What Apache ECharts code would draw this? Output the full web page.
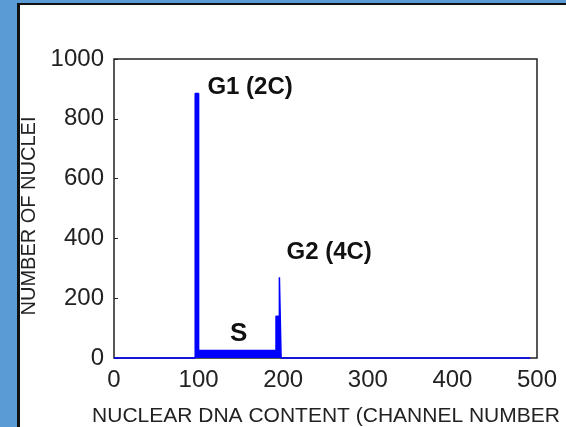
<!DOCTYPE html>
<html>
<head>
<meta charset="utf-8">
<script src="https://cdn.jsdelivr.net/npm/echarts@6/dist/echarts.min.js"></script>
<style>
  html, body { margin: 0; padding: 0; width: 566px; height: 427px; overflow: hidden; background: #5b9bd5; }
  #frame { position: absolute; left: 17px; top: 3px; right: 0; bottom: 0; background: #fff;
           border-left: 3px solid #111; border-top: 2px solid #111; box-sizing: border-box; }
  #chart { position: absolute; left: 0; top: 0; width: 566px; height: 427px; }
</style>
</head>
<body>
<div id="frame"></div>
<div id="chart"></div>
<script>
// DNA content histogram: channel number vs. count of nuclei
const channel = [0, 96, 96, 100, 100, 191.5, 191.5, 195.5, 195.5, 197.5, 197.5, 492];
const nuclei  = [0, 0, 885, 885, 25, 25, 140, 140, 270, 270, 0, 0];

const xTicks = [0, 100, 200, 300, 400, 500];
const yTicks = [0, 200, 400, 600, 800, 1000];

// phase annotations: [label, channel, count, alignment]
const phaseLabels = [
  ['G1 (2C)', 111, 905, 'left'],
  ['G2 (4C)', 204.5, 350, 'left'],
  ['S', 148, 78, 'center']
];

const FONT = "'Liberation Sans', Arial, sans-serif";
const plain = v => String(v);
const chart = echarts.init(document.getElementById('chart'), null, { renderer: 'canvas' });

chart.setOption({
  backgroundColor: 'transparent',
  animation: false,
  grid: {
    left: 114, top: 59, right: 29, bottom: 69,
    show: true, borderColor: '#222', borderWidth: 1.5, backgroundColor: 'transparent'
  },
  xAxis: {
    type: 'value',
    min: xTicks[0], max: xTicks[xTicks.length - 1], interval: 100,
    axisLine: { show: false },
    axisTick: { show: false },
    splitLine: { show: false },
    axisLabel: { fontFamily: FONT, fontSize: 24, color: '#222', margin: 10, formatter: plain }
  },
  yAxis: {
    type: 'value',
    min: yTicks[0], max: yTicks[yTicks.length - 1], interval: 200,
    axisLine: { show: false },
    axisTick: { show: true, inside: true, length: 4, lineStyle: { color: '#222', width: 1 } },
    splitLine: { show: false },
    axisLabel: { fontFamily: FONT, fontSize: 24, color: '#222', margin: 10, formatter: plain }
  },
  series: [{
    type: 'line',
    data: channel.map((c, i) => [c, nuclei[i]]),
    symbol: 'none',
    clip: false,
    lineStyle: { color: '#0000ff', width: 1.5 },
    areaStyle: { color: '#0000ff', opacity: 1 },
    markPoint: {
      symbol: 'circle',
      symbolSize: 1,
      itemStyle: { color: 'rgba(0,0,0,0)' },
      data: phaseLabels.map(p => ({
        coord: [p[1], p[2]],
        label: {
          show: true,
          formatter: p[0],
          position: [0, 0],
          align: p[3],
          verticalAlign: 'middle',
          fontFamily: FONT,
          fontWeight: 'bold',
          fontSize: p[0] === 'S' ? 26 : 24,
          color: '#111'
        }
      }))
    }
  }],
  graphic: [
    {
      type: 'text', x: 326, y: 416,
      style: { text: 'NUCLEAR DNA CONTENT (CHANNEL NUMBER', font: "21px " + FONT,
               fill: '#222', textAlign: 'center', textVerticalAlign: 'middle' }
    },
    {
      type: 'text', x: 29, y: 216, rotation: Math.PI / 2,
      style: { text: 'NUMBER OF NUCLEI', font: "20px " + FONT,
               fill: '#222', textAlign: 'center', textVerticalAlign: 'middle' }
    }
  ]
});
</script>
</body>
</html>
